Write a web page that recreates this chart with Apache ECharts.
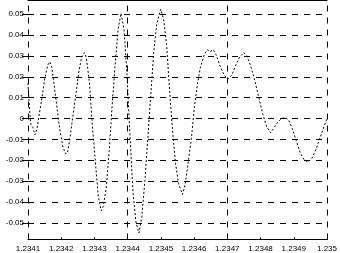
<!DOCTYPE html>
<html><head><meta charset="utf-8">
<script src="https://cdn.jsdelivr.net/npm/echarts@6/dist/echarts.min.js"></script>
<style>html,body{margin:0;padding:0;background:#fff}#c{width:340px;height:253px}</style>
</head><body><div id="c"></div>
<script>
var xValues = [1.2341000,1.2341030,1.2341060,1.2341089,1.2341149,1.2341209,1.2341268,1.2341328,1.2341417,1.2341507,
1.2341596,1.2341656,1.2341715,1.2341775,1.2341864,1.2341954,1.2342043,1.2342132,1.2342192,1.2342252,
1.2342341,1.2342430,1.2342520,1.2342609,1.2342699,1.2342758,1.2342848,1.2342937,1.2343026,1.2343116,
1.2343205,1.2343265,1.2343354,1.2343444,1.2343533,1.2343623,1.2343712,1.2343801,1.2343891,1.2343980,
1.2344070,1.2344159,1.2344248,1.2344338,1.2344427,1.2344517,1.2344606,1.2344695,1.2344785,1.2344874,
1.2344993,1.2345083,1.2345172,1.2345262,1.2345351,1.2345440,1.2345530,1.2345649,1.2345738,1.2345828,
1.2345917,1.2346007,1.2346096,1.2346185,1.2346305,1.2346394,1.2346483,1.2346573,1.2346662,1.2346781,
1.2346901,1.2347020,1.2347139,1.2347258,1.2347377,1.2347497,1.2347586,1.2347705,1.2347824,1.2347944,
1.2348063,1.2348182,1.2348301,1.2348391,1.2348510,1.2348629,1.2348748,1.2348838,1.2348957,1.2349076,
1.2349195,1.2349315,1.2349434,1.2349553,1.2349672,1.2349791,1.2349911,1.2350000];
var yValues = [0.0170,0.0087,0.0010,-0.0029,-0.0044,-0.0078,-0.0053,0.0010,0.0097,0.0194,
0.0257,0.0272,0.0248,0.0175,0.0063,-0.0049,-0.0131,-0.0170,-0.0160,-0.0107,
0.0000,0.0102,0.0214,0.0291,0.0316,0.0291,0.0175,-0.0034,-0.0204,-0.0374,
-0.0442,-0.0422,-0.0335,-0.0155,0.0063,0.0257,0.0427,0.0505,0.0427,0.0209,
-0.0083,-0.0350,-0.0495,-0.0549,-0.0471,-0.0301,-0.0097,0.0112,0.0320,0.0451,
0.0524,0.0476,0.0354,0.0136,-0.0058,-0.0214,-0.0311,-0.0364,-0.0311,-0.0204,
-0.0097,0.0053,0.0160,0.0243,0.0306,0.0330,0.0320,0.0330,0.0306,0.0252,
0.0209,0.0189,0.0209,0.0257,0.0296,0.0316,0.0301,0.0252,0.0184,0.0102,
0.0024,-0.0039,-0.0068,-0.0049,-0.0019,0.0000,0.0005,-0.0005,-0.0049,-0.0107,
-0.0165,-0.0199,-0.0209,-0.0189,-0.0146,-0.0092,-0.0039,0.0000];
var xTicks = [1.2341,1.2342,1.2343,1.2344,1.2345,1.2346,1.2347,1.2348,1.2349,1.235];
var xGridLines = [1.2341,1.2344,1.2347,1.235];
var yTicks = [-0.05,-0.04,-0.03,-0.02,-0.01,0,0.01,0.02,0.03,0.04,0.05];
var xMin = 1.2341, xMax = 1.235, yMin = -0.058, yMax = 0.0566;

var chart = echarts.init(document.getElementById('c'), null, {renderer:'canvas'});
var font = {fontFamily:'Liberation Sans', fontSize:8, color:'#000'};
var dash = {color:'#000', width:1, type:[6,6]};
var pts = xValues.map(function(x,i){return [x, yValues[i]];});
var marks = yTicks.map(function(v){return [{coord:[xMin, v]},{coord:[xMax, v]}];})
  .concat(xGridLines.map(function(v){return [{coord:[v, yMin]},{coord:[v, yMax]}];}));
chart.setOption({
  animation:false,
  grid:{left:28, right:10, top:0.5, bottom:13.5, containLabel:false},
  xAxis:[{type:'value', min:xMin, max:xMax, position:'bottom',
    axisLine:{show:true, onZero:false, lineStyle:{color:'#000', width:1}},
    axisTick:{show:true, inside:true, length:2, customValues:xTicks, lineStyle:{color:'#000'}},
    axisLabel:Object.assign({customValues:xTicks, margin:5, showMinLabel:true, showMaxLabel:true,
      formatter:function(v){return String(+(+v).toFixed(4));}}, font),
    splitLine:{show:false}},
   {type:'value', min:xMin, max:xMax, position:'top',
    axisLine:{show:true, onZero:false, lineStyle:{color:'#000', width:1}},
    axisTick:{show:false}, axisLabel:{show:false}, splitLine:{show:false}}],
  yAxis:{type:'value', min:yMin, max:yMax,
    axisLine:{show:false},
    axisTick:{show:true, inside:false, length:6, customValues:yTicks, lineStyle:{color:'#000'}},
    axisLabel:Object.assign({customValues:yTicks, margin:4,
      formatter:function(v){return String(+(+v).toFixed(2));}}, font),
    splitLine:{show:false}},
  series:[{type:'line', xAxisIndex:0, data:pts, symbol:'none', smooth:false,
    lineStyle:{color:'#000', width:1, type:[2,2]},
    markLine:{silent:true, symbol:['none','none'], label:{show:false}, lineStyle:dash, animation:false, data:marks}}]
});
</script></body></html>
